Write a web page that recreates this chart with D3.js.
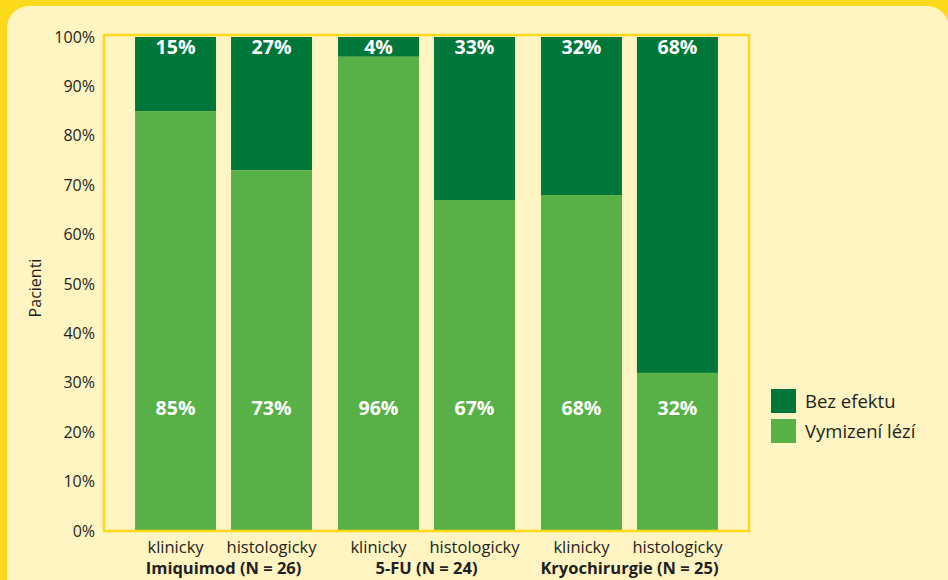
<!DOCTYPE html>
<html>
<head>
<meta charset="utf-8">
<script src="https://cdn.jsdelivr.net/npm/d3@7"></script>
<style>
  body { margin: 0; background: #fdd91c; }
  svg { display: block; font-family: "Open Sans", "Noto Sans", sans-serif; }
</style>
</head>
<body>
<div id="chart"></div>
<script>
const width = 948;
const height = 580;

// data
const groups = ["Imiquimod", "5-FU", "Kryochirurgie"];
const groupN = [26, 24, 25];
const methods = ["klinicky", "histologicky"];
const cleared = [85, 73, 96, 67, 68, 32];   // Vymizení lézí
const noEffect = [15, 27, 4, 33, 32, 68];   // Bez efektu
const yTicks = [0, 10, 20, 30, 40, 50, 60, 70, 80, 90, 100];
const seriesNames = ["Bez efektu", "Vymizení lézí"];

const darkGreen = "#00773a";
const lightGreen = "#58b146";
const cream = "#fef5c2";
const yellow = "#fdd91c";
const textColor = "#231f20";

const plot = { left: 104, right: 749, top: 37, bottom: 531 };

const svg = d3.select("#chart")
  .append("svg")
  .attr("width", width)
  .attr("height", height);

// background: yellow frame, cream panel with rounded top corners
svg.append("rect")
  .attr("width", width).attr("height", height)
  .attr("fill", yellow);
svg.append("rect")
  .attr("x", 7).attr("y", 6)
  .attr("width", 942).attr("height", height + 30)
  .attr("rx", 22).attr("ry", 22)
  .attr("fill", cream);

const x0 = d3.scaleBand()
  .domain(groups)
  .range([plot.left, plot.right])
  .paddingInner(0.128)
  .paddingOuter(0.153);

const x1 = d3.scaleBand()
  .domain(methods)
  .range([0, x0.bandwidth()])
  .paddingInner(0.156)
  .paddingOuter(0);

const y = d3.scaleLinear()
  .domain([0, 100])
  .range([plot.bottom, plot.top]);

// bars data
const bars = [];
groups.forEach((g, gi) => {
  methods.forEach((m, mi) => {
    const i = gi * 2 + mi;
    bars.push({ group: g, method: m, cleared: cleared[i], noEffect: noEffect[i] });
  });
});

const barG = svg.append("g");

barG.selectAll(".top")
  .data(bars)
  .join("rect")
  .attr("x", d => x0(d.group) + x1(d.method))
  .attr("y", y(100))
  .attr("width", x1.bandwidth())
  .attr("height", d => y(d.cleared) - y(100))
  .attr("fill", darkGreen);

barG.selectAll(".bottom")
  .data(bars)
  .join("rect")
  .attr("x", d => x0(d.group) + x1(d.method))
  .attr("y", d => y(d.cleared))
  .attr("width", x1.bandwidth())
  .attr("height", d => y(0) - y(d.cleared))
  .attr("fill", lightGreen);

// value labels
barG.selectAll(".lblTop")
  .data(bars)
  .join("text")
  .attr("x", d => x0(d.group) + x1(d.method) + x1.bandwidth() / 2)
  .attr("y", y(98) + 7)
  .attr("text-anchor", "middle")
  .attr("fill", "#fff")
  .attr("font-size", "19.5px")
  .attr("font-weight", "bold")
  .text(d => d.noEffect + "%");

barG.selectAll(".lblBottom")
  .data(bars)
  .join("text")
  .attr("x", d => x0(d.group) + x1(d.method) + x1.bandwidth() / 2)
  .attr("y", y(25) + 7)
  .attr("text-anchor", "middle")
  .attr("fill", "#fff")
  .attr("font-size", "19.5px")
  .attr("font-weight", "bold")
  .text(d => d.cleared + "%");

// plot frame
svg.append("rect")
  .attr("x", plot.left)
  .attr("y", plot.top - 2)
  .attr("width", plot.right - plot.left)
  .attr("height", plot.bottom - plot.top + 2)
  .attr("fill", "none")
  .attr("stroke", yellow)
  .attr("stroke-width", 2.5);

// y axis
const yAxis = d3.axisLeft(y).tickValues(yTicks).tickSize(0).tickPadding(9).tickFormat(d => d + "%");
const yg = svg.append("g")
  .attr("transform", `translate(${plot.left},0)`)
  .call(yAxis);
yg.select(".domain").remove();
yg.selectAll("text")
  .attr("font-size", "16px")
  .attr("font-family", "Open Sans, sans-serif")
  .attr("fill", textColor);

svg.append("text")
  .attr("transform", "rotate(-90)")
  .attr("x", -288)
  .attr("y", 41)
  .attr("text-anchor", "middle")
  .attr("font-size", "16px")
  .attr("fill", textColor)
  .text("Pacienti");

// x labels
const xg = svg.append("g");
bars.forEach(d => {
  xg.append("text")
    .attr("x", x0(d.group) + x1(d.method) + x1.bandwidth() / 2)
    .attr("y", 553)
    .attr("text-anchor", "middle")
    .attr("font-size", "16.5px")
    .attr("fill", textColor)
    .text(d.method);
});
groups.forEach((g, i) => {
  xg.append("text")
    .attr("x", x0(g) + x0.bandwidth() / 2)
    .attr("y", 574)
    .attr("text-anchor", "middle")
    .attr("font-size", "16.5px")
    .attr("font-weight", "bold")
    .attr("fill", textColor)
    .text(`${g} (N = ${groupN[i]})`);
});

// legend
const legend = svg.append("g").attr("transform", "translate(771,389)");
const legendColors = [darkGreen, lightGreen];
seriesNames.forEach((s, i) => {
  legend.append("rect")
    .attr("x", 0).attr("y", i * 30)
    .attr("width", 25).attr("height", 24)
    .attr("fill", legendColors[i]);
  legend.append("text")
    .attr("x", 34).attr("y", i * 30 + 19)
    .attr("font-size", "18.5px")
    .attr("fill", textColor)
    .text(s);
});
</script>
</body>
</html>
